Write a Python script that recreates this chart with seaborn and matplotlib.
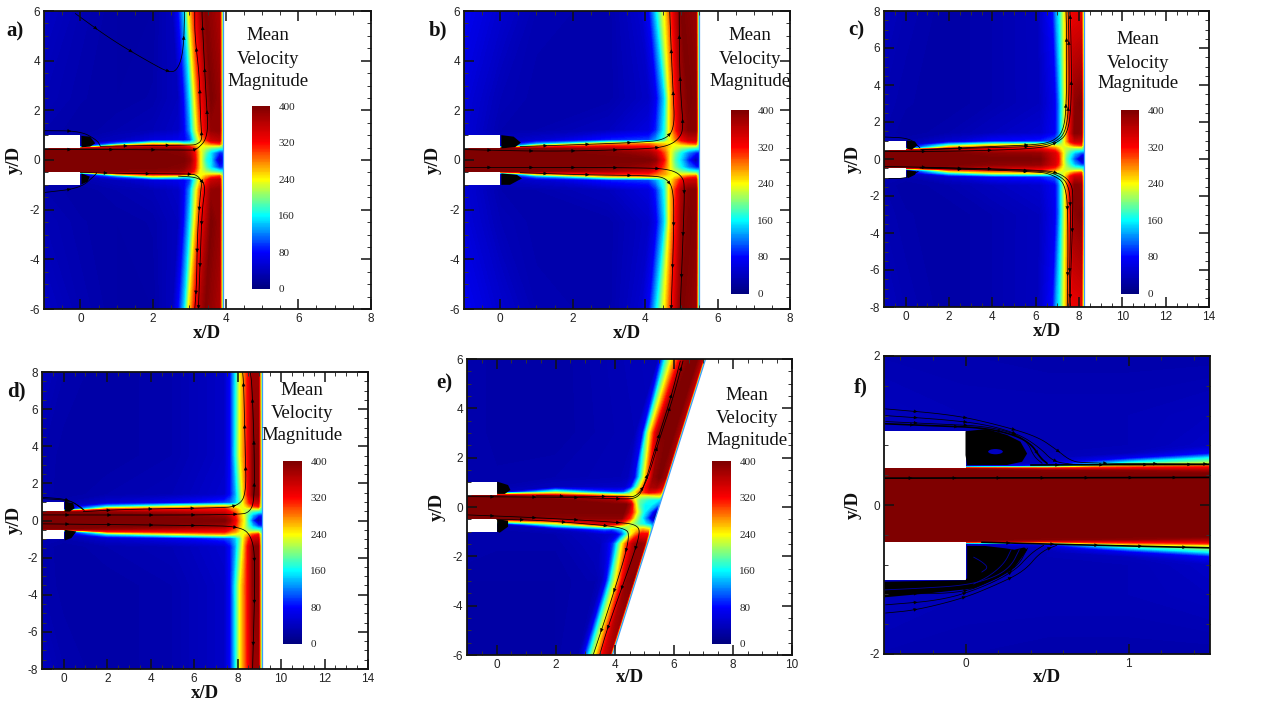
import numpy as np
import matplotlib
matplotlib.use("Agg")
import matplotlib.pyplot as plt
from matplotlib.patches import Ellipse, Rectangle
from matplotlib.ticker import MultipleLocator
import seaborn as sns

sns.set_theme(style="ticks")
plt.rcParams['font.family'] = ['Liberation Sans', 'DejaVu Sans']
plt.rcParams['axes.unicode_minus'] = False

W, H = 1280, 720
SERIF = 'Liberation Serif'

# colour scale of the plots
scale_colors = ["#00007f", "#0000ff", "#00ffff", "#ffff00", "#ff0000", "#7f0000"]
bar_ticks = [0, 80, 160, 240, 320, 400]
bar_levels = np.arange(400, -1, -2)

# Velocity tables. Rows go with y >= 0 and are mirrored,
# panel e is read over the whole height. The shift says how far the wall jet
# columns sit from their listed x in that row.
a_x = [-1, 0, 1, 2, 2.7, 2.85, 3.02, 3.13, 3.28, 3.45, 3.6, 3.83, 3.93, 4.3]
a_y = [0, .3, .45, .55, .65, .8, 1.2, 2.5, 6]
a_shift = [0, 0, 0, 0, 0, 0, 0, 0, -.15]
a_speed = [
    [400, 400, 400, 400, 400, 400, 385, 340, 250, 170, 150, 30, 70, 70],
    [400, 400, 400, 400, 395, 390, 365, 330, 250, 190, 150, 90, 95, 95],
    [400, 400, 395, 390, 385, 375, 350, 310, 240, 210, 185, 165, 160, 160],
    [400, 60, 290, 340, 340, 330, 300, 280, 240, 230, 225, 215, 200, 200],
    [60, 35, 120, 240, 220, 190, 190, 200, 230, 260, 280, 300, 220, 220],
    [30, 30, 40, 60, 70, 75, 100, 160, 240, 300, 350, 360, 180, 180],
    [30, 25, 30, 35, 45, 70, 130, 200, 280, 340, 385, 390, 170, 170],
    [35, 28, 25, 28, 40, 80, 155, 230, 310, 360, 400, 385, 150, 150],
    [45, 32, 25, 25, 40, 80, 150, 240, 310, 370, 395, 370, 150, 150],
]

b_x = [-1, 0, 1, 3, 4.1, 4.3, 4.54, 4.66, 4.82, 5.0, 5.2, 5.4, 5.49, 5.9]
b_y = [0, .3, .45, .55, .65, .8, 1.2, 2.5, 6]
b_shift = [0, 0, 0, 0, 0, 0, 0, 0, -.2]
b_speed = [
    [400, 400, 400, 400, 400, 385, 310, 250, 185, 145, 85, 25, 60, 60],
    [400, 400, 400, 395, 375, 350, 290, 250, 200, 160, 120, 90, 85, 85],
    [400, 400, 395, 370, 340, 310, 270, 245, 220, 195, 175, 160, 160, 160],
    [400, 60, 270, 320, 310, 290, 270, 250, 230, 225, 220, 215, 180, 180],
    [60, 40, 130, 260, 280, 260, 250, 240, 240, 260, 280, 290, 190, 190],
    [55, 40, 50, 90, 100, 130, 180, 230, 270, 320, 350, 350, 160, 160],
    [55, 30, 30, 40, 60, 90, 165, 240, 300, 370, 395, 395, 160, 160],
    [58, 35, 28, 28, 45, 70, 150, 235, 310, 380, 400, 395, 140, 140],
    [72, 50, 32, 28, 50, 75, 165, 215, 270, 340, 400, 385, 110, 110],
]

c_x = [-1, 0, 2, 4, 6.2, 6.9, 7.05, 7.2, 7.4, 7.6, 7.8, 8.1, 8.25, 8.7]
c_y = [0, .3, .45, .6, .75, .95, 1.4, 3, 8]
c_shift = [0, 0, 0, 0, 0, 0, 0, 0, -.1]
c_speed = [
    [400, 400, 400, 400, 400, 345, 320, 260, 190, 150, 100, 30, 50, 50],
    [400, 400, 400, 390, 385, 340, 310, 260, 205, 170, 135, 100, 90, 90],
    [400, 400, 385, 360, 350, 310, 280, 245, 215, 190, 170, 155, 150, 150],
    [60, 50, 290, 310, 310, 270, 250, 235, 220, 215, 215, 215, 180, 180],
    [40, 35, 170, 240, 250, 220, 215, 220, 240, 260, 285, 300, 190, 190],
    [35, 30, 50, 80, 90, 110, 140, 190, 260, 320, 350, 350, 170, 170],
    [30, 25, 30, 40, 50, 75, 110, 170, 260, 340, 395, 390, 160, 160],
    [32, 28, 25, 30, 40, 70, 110, 165, 250, 320, 390, 400, 170, 170],
    [40, 32, 25, 30, 40, 85, 130, 160, 230, 290, 330, 335, 160, 160],
]

d_x = [-1, 0, 2, 5, 7.4, 7.66, 7.9, 8.12, 8.3, 8.5, 8.7, 8.95, 9.12, 9.6]
d_y = [0, .3, .45, .6, .75, .95, 1.4, 3.5, 8]
d_shift = [0, 0, 0, 0, 0, 0, 0, 0, 0]
d_speed = [
    [400, 400, 400, 400, 400, 375, 325, 270, 235, 165, 95, 15, 55, 55],
    [400, 400, 400, 395, 375, 345, 310, 260, 230, 180, 140, 100, 90, 90],
    [400, 400, 385, 365, 345, 320, 290, 250, 225, 195, 170, 155, 150, 150],
    [60, 50, 300, 320, 320, 290, 270, 240, 225, 215, 215, 215, 180, 180],
    [40, 35, 150, 220, 260, 240, 230, 230, 240, 265, 290, 310, 190, 190],
    [35, 30, 50, 70, 100, 110, 140, 190, 250, 300, 340, 350, 170, 170],
    [30, 25, 30, 35, 50, 80, 130, 200, 260, 330, 390, 395, 160, 160],
    [30, 26, 25, 30, 45, 80, 160, 240, 280, 330, 390, 395, 165, 165],
    [40, 30, 25, 30, 45, 80, 155, 240, 280, 325, 380, 380, 160, 160],
]

# inclined plate: columns of the wall jet are listed as if the plate stood upright
e_x = [-1, 0, 2, 3.9, 4.15, 4.35, 4.5, 4.65, 4.8, 5.0, 5.2, 5.4, 5.5, 6]
e_y = [-6, -3, -1.5, -1.1, -.9, -.7, -.45, -.2, .1, .3, .45, .6, .8, 1.2, 3, 6]
e_speed = [
    [25, 25, 25, 30, 30, 30, 60, 130, 200, 270, 340, 370, 150, 150],
    [25, 25, 25, 30, 30, 40, 80, 165, 230, 310, 390, 395, 150, 150],
    [30, 28, 28, 40, 60, 100, 170, 240, 300, 360, 390, 380, 160, 160],
    [30, 30, 30, 45, 50, 60, 90, 150, 220, 280, 320, 320, 160, 160],
    [30, 30, 40, 110, 100, 130, 150, 200, 240, 250, 260, 240, 170, 170],
    [30, 30, 200, 340, 330, 300, 270, 230, 210, 180, 160, 130, 110, 110],
    [400, 400, 390, 390, 390, 390, 340, 300, 230, 170, 110, 40, 40, 40],
    [400, 400, 400, 400, 400, 400, 370, 310, 240, 170, 130, 60, 30, 30],
    [400, 400, 400, 400, 400, 400, 370, 260, 190, 160, 160, 130, 130, 130],
    [400, 400, 400, 370, 350, 320, 270, 220, 190, 175, 165, 160, 150, 150],
    [400, 400, 350, 280, 265, 250, 235, 230, 225, 220, 230, 240, 200, 200],
    [60, 40, 200, 100, 110, 170, 230, 270, 300, 330, 320, 300, 180, 180],
    [30, 30, 40, 45, 50, 90, 170, 240, 310, 370, 375, 340, 170, 170],
    [30, 28, 30, 35, 40, 65, 140, 220, 290, 385, 400, 380, 160, 160],
    [30, 26, 25, 35, 75, 220, 290, 360, 400, 400, 400, 370, 150, 150],
    [30, 26, 25, 40, 170, 240, 285, 330, 385, 400, 400, 360, 150, 150],
]

f_x = [-.5, 0, .5, 1, 1.5]
f_y = [0, .42, .46, .49, .52, .54, .57, .63, .69, .8, 1.2, 2]
f_shift = [0] * 12
f_speed = [
    [400, 400, 400, 400, 400],
    [400, 400, 400, 400, 400],
    [400, 400, 395, 390, 370],
    [400, 380, 330, 330, 340],
    [40, 30, 120, 270, 300],
    [40, 30, 60, 230, 240],
    [40, 30, 40, 160, 210],
    [40, 30, 35, 70, 160],
    [40, 30, 35, 40, 80],
    [40, 35, 35, 35, 45],
    [40, 35, 35, 35, 40],
    [32, 30, 28, 28, 28],
]

# streamlines, (x list, y list)
a_streams = [
    ([-1, 1, 3, 3.2, 3.53, 3.46, 3.35, 3.35], [.42, .42, .4, .4, .94, 2.55, 5.77, 6]),
    ([.55, 1.7, 3, 3.2, 3.35, 3.33, 3.3, 3.28, 3.15, 3.15], [.55, .58, .6, .62, .8, 1.2, 2, 3.36, 5, 6]),
    ([-.14, .87, 1.88, 2.48, 2.7, 2.84, 2.87], [5.9, 4.83, 3.96, 3.49, 3.69, 4.43, 6]),
    ([-1, 0, .46, .55], [1.18, 1.17, .8, .56]),
    ([-1, 0, .41, .45], [-1.31, -1.14, -.6, -.52]),
    ([0, 1.5, 3, 3.2, 3.35, 3.3, 3.22, 3.2, 3.15], [-.5, -.55, -.56, -.6, -.85, -1.4, -3, -5, -6]),
    ([2.7, 3.25, 3.45, 3.35, 3.3, 3.25], [-.65, -.7, -1, -2, -4, -6]),
]
b_streams = [
    ([-1, 1.42, 3.85, 4.63, 5, 5.05, 5, 4.95, 4.94], [.42, .34, .43, .54, .94, 1.48, 2.28, 3.76, 6]),
    ([.55, 2.57, 3.8, 4.54, 4.82, 4.77, 4.72, 4.68], [.54, .64, .71, .8, 1.28, 2.82, 4.43, 6]),
    ([-1, 1.38, 3.76, 4.68, 5.05, 5.09, 5.05, 4.97], [-.3, -.3, -.31, -.36, -.67, -1.2, -2.95, -6]),
    ([.55, 2.39, 4.22, 4.59, 4.79, 4.79, 4.72], [-.51, -.6, -.63, -.74, -1.2, -2.95, -6]),
]
c_streams = [
    ([-1, 2.2, 6.2, 6.97, 7.5, 7.66, 7.63, 7.58], [.41, .41, .56, .86, 1.4, 3.2, 6.8, 8]),
    ([.7, 4.05, 6.05, 6.8, 7.3, 7.43, 7.43, 7.4], [.5, .68, .77, .95, 1.5, 3.2, 6.8, 8]),
    ([.7, 4.05, 6.1, 6.9, 7.4, 7.55, 7.53, 7.5], [.5, .62, .68, .9, 1.45, 3.2, 6.8, 8]),
    ([-1, 6.2, 7.12, 7.66, 7.74, 7.58, 7.62], [-.4, -.58, -.76, -1.3, -2.2, -7.6, -8]),
    ([.66, 6.05, 6.8, 7.43, 7.5, 7.46], [-.49, -.67, -.85, -1.39, -4, -8]),
    ([.66, 6.1, 6.95, 7.55, 7.62, 7.54], [-.45, -.62, -.8, -1.35, -3, -8]),
    ([-1, .2, .66], [1.19, 1.13, .6]),
    ([-1, 0, .58], [-1.06, -1.06, -.67]),
]
d_streams = [
    ([.9, 2.74, 7.05, 7.97, 8.4, 8.35, 8.28, 8.23], [.48, .6, .68, .75, 1.37, 3.8, 7.36, 8]),
    ([-1, 8.1, 8.58, 8.77, 8.77, 8.66, 8.58], [.3, .29, .48, 1.1, 3.8, 7.36, 8]),
    ([-1, 6.28, 8.12, 8.66, 8.82, 8.69], [-.18, -.27, -.32, -.86, -2.28, -8]),
    ([-1, .28, .9], [1.25, 1.14, .57]),
    ([-1, .2, .7, .95], [1.18, 1.1, .8, .55]),
]
e_streams = [
    ([1.35, 4.39, 4.73, 5.07, 5.52, 5.97, 6.31], [.45, .42, .42, .96, 2.78, 4.4, 5.92]),
    ([-1, 2.82, 4.28, 4.73, 4.96, 5.46, 5.88, 6.22], [.42, .39, .32, .35, .69, 2.78, 4.34, 5.92]),
    ([-1, 1.35, 4.28, 4.73, 4.87, 4.62, 3.77, 3.49], [-.32, -.43, -.63, -.73, -1, -2.01, -4.85, -6]),
    ([0, 1.35, 2.82, 4.28, 4.56, 3.89, 3.27], [-.5, -.53, -.66, -.82, -1.14, -3.77, -6]),
]
f_streams = [
    ([-.49, -.07, .21, .44, .56, .64, .72, 1.5], [1.29, 1.21, 1.07, .92, .74, .6, .56, .55]),
    ([-.49, -.09, .15, .337, .46, .54, .66], [1.2, 1.14, 1.07, .94, .76, .58, .546]),
    ([-.49, -.1, .1, .28, .38, .42, .47], [1.12, 1.08, 1.06, .98, .85, .65, .56]),
    ([-.49, -.3, -.01, .19, .36, .46, .56], [-1.45, -1.41, -1.25, -1.07, -.89, -.63, -.54]),
    ([-.49, -.15, .09, .3, .4, .48], [-1.34, -1.28, -1.12, -.89, -.65, -.54]),
    ([-.49, -.03, .15, .32, .38], [-1.19, -1.19, -1.03, -.83, -.58]),
]
f_bold = [
    ([-.5, 1.5], [.36, .37]),
    ([.4, 1.5], [.537, .545]),
    ([.1, .6, 1.5], [-.5, -.53, -.575]),
    ([-.49, -.15, .09, .275, .4, .46, .5], [1.09, 1.06, 1.04, .96, .83, .63, .56]),
]
# thin gaps left between the dense lines under the lower nozzle
f_gaps = [
    ([.28, .24, .15, .05], [-.6, -.78, -.95, -1.06]),
    ([.33, .28, .18, 0, -.3, -.5], [-.6, -.82, -.97, -1.08, -1.12, -1.14]),
    ([.05, .1, .14, .1], [-.7, -.76, -.84, -.9]),
]

# dense recirculation behind the nozzle
a_blobs = [([.03, .27, .41, .27, .03], [.97, .94, .67, .54, .51]),
           ([.03, .26, .2, .03], [-.54, -.67, -.87, -.98])]
b_blobs = [([.03, .37, .57, .41, .03], [1, .94, .7, .51, .47]),
           ([.03, .46, .6, .27, .03], [-.54, -.6, -.74, -1, -1])]
c_blobs = [([.05, .43, .54, .28, .05], [1, .95, .74, .5, .56]),
           ([.05, .5, .43, .12, .05], [-.61, -.67, -.85, -1.03, -.94])]
d_blobs = [([.05, .43, .5, .28, .05], [1.02, .93, .66, .48, .48]),
           ([.05, .58, .35, .05], [-.5, -.59, -.95, -1.07])]
e_blobs = [([.02, .39, .47, .28, .02], [1.03, .89, .69, .53, .53]),
           ([.02, .39, .39, .11, .02], [-.5, -.55, -.8, -1.04, -1])]
f_blobs = [([0, .13, .255, .337, .378, .347, .255, .01, 0], [.99, 1.02, .94, .85, .69, .58, .537, .537, .67]),
           ([.01, .12, .24, .3, .36, .38, .3, .2, .05, -.2, -.5, -.5, 0, .01],
            [-.55, -.55, -.58, -.6, -.57, -.6, -.84, -.98, -1.12, -1.18, -1.24, -1.03, -1.01, -.98])]

cmap = sns.blend_palette(scale_colors, as_cmap=True)
fig = plt.figure(figsize=(W / 100, H / 100), dpi=100, facecolor='white')


def px_axes(left, top, right, bottom):
    return fig.add_axes([left / W, 1 - bottom / H, (right - left) / W, (bottom - top) / H])


def px_text(x, y, s, **kw):
    fig.text(x / W, 1 - y / H, s, family=SERIF, ha='center', va='center', **kw)


def rounded(xs, ys, passes=3):
    # cut the corners so a streamline bends instead of kinking
    pts = np.column_stack([xs, ys]).astype(float)
    for _ in range(passes):
        a, b = pts[:-1], pts[1:]
        cut = np.empty((2 * len(a), 2))
        cut[0::2] = .75 * a + .25 * b
        cut[1::2] = .25 * a + .75 * b
        pts = np.vstack([pts[0], cut, pts[-1]])
    return pts[:, 0], pts[:, 1]


def draw_stream(ax, xs, ys, every, lw=.55, arrows=True):
    xs, ys = rounded(xs, ys)
    sns.lineplot(x=xs, y=ys, sort=False, estimator=None, color='black', lw=lw, ax=ax, zorder=4, legend=False)
    if not arrows:
        return
    pts = ax.transData.transform(np.column_stack([xs, ys]))
    seg = np.hypot(*np.diff(pts, axis=0).T)
    walked = np.r_[0, np.cumsum(seg)]
    inv = ax.transData.inverted()
    for s in np.arange(every * .6, walked[-1], every):
        p0 = [np.interp(s - 2, walked, pts[:, 0]), np.interp(s - 2, walked, pts[:, 1])]
        p1 = [np.interp(s + 2, walked, pts[:, 0]), np.interp(s + 2, walked, pts[:, 1])]
        ax.annotate('', xy=inv.transform(p1), xytext=inv.transform(p0), zorder=5,
                    arrowprops=dict(arrowstyle='-|>', mutation_scale=5.5, color='black', lw=.3,
                                    shrinkA=0, shrinkB=0))


def panel(box, xlim, ylim, xs, ys, speed, shift, lean, streams, blobs, wall=None, every=42):
    ax = px_axes(*box)
    ax.set_xlim(xlim)
    ax.set_ylim(ylim)
    xs = np.array(xs, dtype=float)
    ys = np.array(ys, dtype=float)
    grid_x = np.tile(xs, (len(ys), 1))
    for j in range(*lean):
        grid_x[:, j] += np.array(shift)
    grid_y = np.tile(ys[:, None], (1, len(xs)))
    ax.contourf(grid_x, grid_y, np.array(speed, dtype=float), levels=np.linspace(0, 400, 161),
                cmap=cmap, vmin=0, vmax=400, extend='both', antialiased=False, zorder=1)
    if wall is not None:
        wy = np.array(ylim)
        wx = wall[0] + wall[1] * wy
        ax.fill([wx[0], wx[1], xlim[1], xlim[1]], [wy[0], wy[1], wy[1], wy[0]], color='white', lw=0, zorder=2)
        ax.plot(wx, wy, color='#3c9cff', lw=.9, zorder=2.5)
    # nozzle lips
    for y0 in (.5, -1):
        ax.add_patch(Rectangle((xlim[0], y0), -xlim[0], .5, color='white', lw=0, zorder=3))
    for bx, by in blobs:
        ax.fill(bx, by, color='black', lw=0, zorder=4)
    for sx, sy in streams:
        draw_stream(ax, sx, sy, every)
    for side in ax.spines.values():
        side.set_linewidth(1.3)
        side.set_color('#111111')
        side.set_zorder(8)
    ax.tick_params(which='major', direction='in', length=7, width=1.1, top=True, right=True,
                   labelsize=8.5, pad=3, color='#111111', labelcolor='#222222')
    ax.tick_params(which='minor', direction='in', length=3, width=.7, top=True, right=True, color='#333333')
    ax.set_axisbelow(False)
    ax.xaxis.set_zorder(7)
    ax.yaxis.set_zorder(7)
    return ax


def mirror(table, ys, shift):
    table = np.array(table)
    return (np.r_[-np.array(ys)[:0:-1], ys], np.vstack([table[:0:-1], table]),
            np.r_[np.array(shift)[:0:-1], shift])


def style(ax, xmaj, xmin, ymaj, ymin):
    ax.xaxis.set_major_locator(MultipleLocator(xmaj))
    ax.xaxis.set_minor_locator(MultipleLocator(xmin))
    ax.yaxis.set_major_locator(MultipleLocator(ymaj))
    ax.yaxis.set_minor_locator(MultipleLocator(ymin))


def colour_bar(left, top, right, bottom):
    cax = px_axes(left, top, right, bottom)
    sns.heatmap(bar_levels[:, None], cmap=cmap, vmin=0, vmax=400, cbar=False, ax=cax,
                xticklabels=False, yticklabels=False)
    cax.yaxis.tick_right()
    cax.set_yticks([(400 - v) / 2 + .5 for v in bar_ticks])
    cax.set_yticklabels(bar_ticks, family=SERIF, fontsize=8, rotation=0, color='#222222')
    cax.tick_params(axis='y', length=0, pad=6)


def bar_title(x, ys):
    for y, word in zip(ys, ['Mean', 'Velocity', 'Magnitude']):
        px_text(x, y, word, fontsize=13.5, color='#111111')


# a
ys, tab, sh = mirror(a_speed, a_y, a_shift)
ax = panel((44, 11, 371, 309), (-1, 8), (-6, 6), a_x, ys, tab, sh, (4, 11), a_streams, a_blobs, (3.93, 0))
style(ax, 2, .5, 2, .5)
colour_bar(252, 106, 270, 289)
bar_title(268, (36, 59, 81))

# b
ys, tab, sh = mirror(b_speed, b_y, b_shift)
ax = panel((464, 11, 790, 309), (-1, 8), (-6, 6), b_x, ys, tab, sh, (4, 11), b_streams, b_blobs, (5.49, 0))
style(ax, 2, .5, 2, .5)
colour_bar(731, 110, 749, 294)
bar_title(750, (36, 59, 81))

# c
ys, tab, sh = mirror(c_speed, c_y, c_shift)
ax = panel((884, 11, 1209, 307), (-1, 14), (-8, 8), c_x, ys, tab, sh, (4, 11), c_streams, c_blobs, (8.25, 0), every=66)
style(ax, 2, .5, 2, .5)
colour_bar(1121, 110, 1139, 294)
bar_title(1138, (39, 63, 84))

# d
ys, tab, sh = mirror(d_speed, d_y, d_shift)
ax = panel((42, 372, 368, 669), (-1, 14), (-8, 8), d_x, ys, tab, sh, (4, 11), d_streams, d_blobs, (9.12, 0))
style(ax, 2, .5, 2, .5)
colour_bar(283, 461, 302, 644)
bar_title(302, (391, 413, 436))

# e
e_shift = 0.2625 * np.array(e_y)
ax = panel((467, 359, 792, 655), (-1, 10), (-6, 6), e_x, e_y, e_speed, e_shift, (3, 14), e_streams, e_blobs, (5.5, .2625))
style(ax, 2, .5, 2, .5)
colour_bar(712, 461, 731, 644)
bar_title(747, (395, 418, 440))

# f
ys, tab, sh = mirror(f_speed, f_y, f_shift)
ax = panel((884, 356, 1210, 654), (-.5, 1.5), (-2, 2), f_x, ys, tab, sh, (0, 0), f_streams, f_blobs, every=50)
style(ax, 1, .2, 2, .4)
ax.add_patch(Ellipse((.184, .716), .09, .07, color='#0000c0', lw=0, zorder=4.5))
for sx, sy in f_bold:
    draw_stream(ax, sx, sy, 44, lw=1.2)
for sx, sy in f_gaps:
    gx, gy = rounded(sx, sy)
    sns.lineplot(x=gx, y=gy, sort=False, estimator=None, color='#0000a0', lw=.6, ax=ax, zorder=4.5, legend=False)

# panel letters and axis titles
letters = [('a)', 15, 31), ('b)', 438, 30), ('c)', 856, 30), ('d)', 16, 391), ('e)', 444, 383), ('f)', 861, 387)]
for s, x, y in letters:
    px_text(x, y, s, fontsize=15, fontweight='bold', color='#111111')
xlabels = [(207, 333), (627, 333), (1047, 332), (205, 693), (630, 678), (1047, 677)]
for x, y in xlabels:
    px_text(x, y, 'x/D', fontsize=13.5, fontweight='bold', color='#111111')
ylabels = [(14, 160), (433, 160), (853, 159), (14, 520), (437, 507), (853, 505)]
for x, y in ylabels:
    px_text(x, y, 'y/D', fontsize=13.5, fontweight='bold', rotation=90, color='#111111')

plt.savefig('out.png', dpi=100)
plt.close()
